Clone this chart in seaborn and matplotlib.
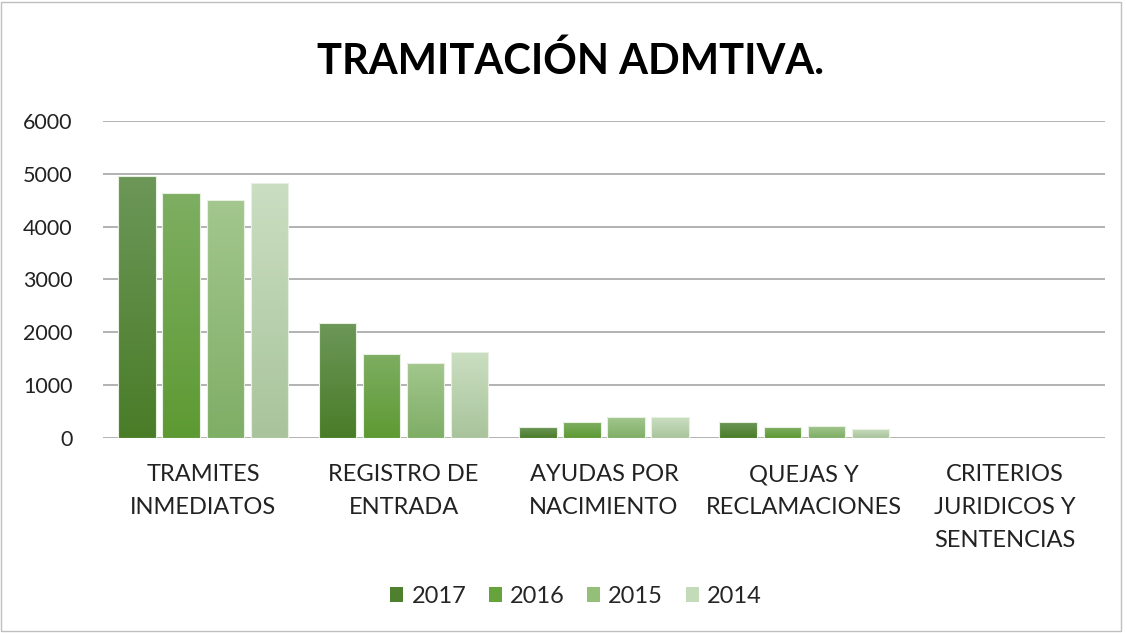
import numpy as np
import pandas as pd
import matplotlib
matplotlib.use("Agg")
import matplotlib.pyplot as plt
from matplotlib.colors import LinearSegmentedColormap
from matplotlib.patches import Patch, Rectangle
import seaborn as sns

# ── Data ──────────────────────────────────────────────────────────────────────
categories = [
    "TRAMITES\nINMEDIATOS",
    "REGISTRO DE\nENTRADA",
    "AYUDAS POR\nNACIMIENTO",
    "QUEJAS Y\nRECLAMACIONES",
    "CRITERIOS\nJURIDICOS Y\nSENTENCIAS",
]
years = ["2017", "2016", "2015", "2014"]
values_2017 = [4950, 2175, 200, 300, 0]
values_2016 = [4630, 1595, 300, 200, 0]
values_2015 = [4510, 1420, 395, 230, 0]
values_2014 = [4820, 1620, 395, 175, 0]
y_ticks = [0, 1000, 2000, 3000, 4000, 5000, 6000]

# gradient (top, bottom) and legend swatch per year
gradients = {
    "2017": ("#6c9758", "#4a7c28"),
    "2016": ("#7eae62", "#5e9a33"),
    "2015": ("#a3c78e", "#7fae66"),
    "2014": ("#cadec1", "#a9c49c"),
}
swatches = {"2017": "#4f8030", "2016": "#66a33a", "2015": "#93bf79", "2014": "#c4dbb9"}

df = pd.DataFrame({
    "categoria": categories * 4,
    "year": [y for y in years for _ in categories],
    "value": values_2017 + values_2016 + values_2015 + values_2014,
})

sns.set_theme(style="white")
plt.rcParams["font.family"] = ["Lato", "DejaVu Sans"]

fig = plt.figure(figsize=(11.27, 6.33), dpi=100)
ax = fig.add_axes([0.0914, 0.308, 0.889, 0.501])

sns.barplot(
    data=df, x="categoria", y="value", hue="year", hue_order=years,
    palette=swatches, width=0.88, gap=0.15, ax=ax, legend=False,
    edgecolor="none", linewidth=0,
)

# ── Gradient fill for each bar ────────────────────────────────────────────────
xlim, ylim = ax.get_xlim(), (0, 6000)
for year, container in zip(years, ax.containers):
    top, bottom = gradients[year]
    cmap = LinearSegmentedColormap.from_list(year, [bottom, top])
    grad = np.linspace(1, 0, 100).reshape(-1, 1)
    for bar in container:
        x, w, h = bar.get_x(), bar.get_width(), bar.get_height()
        if h <= 0:
            bar.set_visible(False)
            continue
        bar.set_facecolor("none")
        bar.set_edgecolor("#e8f0e2")
        bar.set_linewidth(0.8)
        im = ax.imshow(grad, cmap=cmap, extent=[x, x + w, 0, h], aspect="auto",
                       vmin=0, vmax=1, zorder=2, interpolation="bicubic")
        im.set_clip_path(bar)
        bar.set_zorder(3)
ax.set_xlim(xlim)
ax.set_ylim(ylim)
ax.set_aspect("auto")

ax.set_yticks(y_ticks)
ax.set_yticklabels([str(t) for t in y_ticks], fontsize=15.5, color="#222222")
ax.tick_params(axis="y", pad=22, length=0)
ax.tick_params(axis="x", pad=19, length=0, labelsize=17, labelcolor="#222222")
for lbl in ax.get_xticklabels():
    lbl.set_linespacing(1.7)
    lbl.set_verticalalignment("top")
ax.yaxis.grid(True, color="#a6a6a6", linewidth=1.2)
ax.set_axisbelow(True)
ax.set_xlabel("")
ax.set_ylabel("")
sns.despine(ax=ax, left=True, bottom=True, top=True, right=True)

fig.text(0.506, 0.903, "TRAMITACIÓN ADMTIVA.", ha="center", va="center",
         fontsize=30, fontweight="bold", color="#000000")

handles = [Patch(facecolor=swatches[y], edgecolor="none", label=y) for y in years]
fig.legend(handles=handles, loc="center", bbox_to_anchor=(0.511, 0.058), ncol=4,
           frameon=False, fontsize=17, handlelength=0.55, handleheight=0.55,
           handletextpad=0.35, columnspacing=0.95)

fig.patches.append(Rectangle((0.001, 0.003), 0.994, 0.994, transform=fig.transFigure,
                             fill=False, edgecolor="#bfbfbf", linewidth=1))

fig.savefig("out.png", dpi=100)
